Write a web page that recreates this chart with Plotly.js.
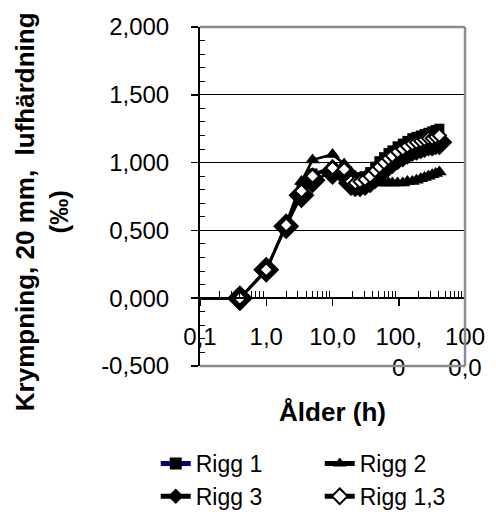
<!DOCTYPE html>
<html>
<head>
<meta charset="utf-8">
<script src="https://cdn.plot.ly/plotly-3.0.1.min.js"></script>
<style>html,body{margin:0;padding:0;background:#fff;}#chart{width:496px;height:519px;}</style>
</head>
<body>
<div id="chart"></div>
<script>
// Ålder (h)
var hours = [0.06, 0.4, 1, 2, 3.4, 5, 10, 15, 19, 22, 26, 31, 37, 44, 51, 60, 70, 80, 96, 115, 135, 160, 185, 215, 245, 280, 320, 360, 410];
var rigg1  = [0, 0, 0.20, 0.54, 0.81, 0.92, 0.96, 0.95, 0.90, 0.89, 0.89, 0.90, 0.93, 0.97, 1.01, 1.04, 1.07, 1.09, 1.12, 1.14, 1.16, 1.18, 1.19, 1.20, 1.21, 1.22, 1.23, 1.24, 1.25];
var rigg2  = [0, 0, 0.21, 0.55, 0.86, 1.02, 1.06, 0.99, 0.93, 0.90, 0.88, 0.87, 0.86, 0.86, 0.85, 0.85, 0.85, 0.85, 0.85, 0.85, 0.86, 0.86, 0.87, 0.88, 0.89, 0.90, 0.91, 0.92, 0.93];
var rigg3  = [0, 0, 0.21, 0.53, 0.76, 0.87, 0.93, 0.92, 0.85, 0.84, 0.84, 0.85, 0.87, 0.90, 0.93, 0.96, 0.99, 1.01, 1.04, 1.06, 1.08, 1.10, 1.11, 1.12, 1.13, 1.14, 1.14, 1.15, 1.15];
var rigg13 = [0, 0, 0.21, 0.54, 0.79, 0.90, 0.96, 0.95, 0.86, 0.85, 0.86, 0.875, 0.90, 0.94, 0.97, 1.00, 1.03, 1.05, 1.08, 1.10, 1.12, 1.14, 1.15, 1.16, 1.17, 1.18, 1.18, 1.19, 1.20];
var seriesNames = ['Rigg 1', 'Rigg 2', 'Rigg 3', 'Rigg 1,3'];
var xTickVals = [0.1, 1, 10, 100, 1000];
var xTickText = ['0,1', '1,0', '10,0', '100,<br>0', '100<br>0,0'];
var yTickVals = [-0.5, 0, 0.5, 1, 1.5, 2];
var yTickText = ['-0,500', '0,000', '0,500', '1,000', '1,500', '2,000'];

var FONT = 'Arial, "Liberation Sans", sans-serif';

var minorVals = [];
[0.1, 1, 10, 100].forEach(function (d) { for (var k = 2; k <= 9; k++) minorVals.push(d * k); });

var traces = [
  {x: hours, y: rigg1, name: seriesNames[0], mode: 'lines+markers',
   line: {color: '#000080', width: 2.5},
   marker: {symbol: 'square', size: 10, color: '#000000'}},
  {x: hours, y: rigg2, name: seriesNames[1], mode: 'lines+markers',
   line: {color: '#000000', width: 2.5},
   marker: {symbol: 'triangle-up', size: 13, color: '#000000'}},
  {x: hours, y: rigg3, name: seriesNames[2], mode: 'lines+markers',
   line: {color: '#000000', width: 2.5},
   marker: {symbol: 'diamond', size: 20, color: '#000000'}},
  {x: hours, y: rigg13, name: seriesNames[3], mode: 'lines+markers',
   line: {color: '#000000', width: 2.5},
   marker: {symbol: 'diamond', size: 10, color: '#ffffff', line: {color: '#000000', width: 2}}}
];

var layout = {
  width: 496, height: 519,
  margin: {l: 200, r: 31, t: 27, b: 153, autoexpand: false},
  paper_bgcolor: '#ffffff', plot_bgcolor: '#ffffff',
  separators: ', ',
  font: {family: FONT, color: '#000000', size: 24},
  showlegend: true,
  legend: {orientation: 'h', x: -0.167, xanchor: 'left', y: -0.224, yanchor: 'top',
           font: {family: FONT, size: 23, color: '#000000'},
           itemsizing: 'constant', entrywidth: 119, traceorder: 'normal',
           bgcolor: 'rgba(0,0,0,0)'},
  xaxis: {
    type: 'log', range: [-1, 3], anchor: 'free', position: 0.2,
    showline: true, linecolor: '#000000', linewidth: 2,
    ticks: 'outside', ticklen: 7, tickwidth: 1.5, tickcolor: '#000000',
    tickmode: 'array', tickvals: xTickVals, ticktext: xTickText,
    tickfont: {family: FONT, size: 24, color: '#000000'},
    ticklabelstandoff: 10,
    showgrid: false, zeroline: false,
    minor: {tickmode: 'array', tickvals: minorVals, ticks: 'inside', ticklen: 6, tickwidth: 1, tickcolor: '#000000', showgrid: false},
    automargin: true,
    title: {text: 'Ålder (h)', standoff: 22, font: {family: FONT, size: 26, weight: 'bold', color: '#000000'}}
  },
  xaxis2: {
    type: 'log', range: [-1, 3], overlaying: 'x', anchor: 'free', position: 0.2,
    showline: false, ticks: 'inside', ticklen: 7, tickwidth: 1.5, tickcolor: '#000000',
    tickmode: 'array', tickvals: xTickVals, showticklabels: false, showgrid: false, zeroline: false
  },
  yaxis: {
    range: [-0.5, 2], tickmode: 'array', tickvals: yTickVals, ticktext: yTickText,
    showline: true, linecolor: '#000000', linewidth: 2,
    ticks: 'outside', ticklen: 7, tickwidth: 1.5, tickcolor: '#000000',
    tickfont: {family: FONT, size: 24, color: '#000000'},
    ticklabelstandoff: 17,
    showgrid: true, gridcolor: '#000000', gridwidth: 1, zeroline: false,
    minor: {tickmode: 'linear', tick0: 0, dtick: 0.1, ticks: 'inside', ticklen: 5, tickwidth: 1, tickcolor: '#000000', showgrid: false}
  },
  shapes: [
    {type: 'line', xref: 'paper', yref: 'paper', x0: 0, x1: 1, y0: 1, y1: 1, line: {color: '#8c8c8c', width: 2.5}, layer: 'above'},
    {type: 'line', xref: 'paper', yref: 'paper', x0: 1, x1: 1, y0: 0, y1: 1, line: {color: '#8c8c8c', width: 2.5}, layer: 'above'},
    {type: 'line', xref: 'paper', yref: 'paper', x0: 0, x1: 1, y0: 0, y1: 0, line: {color: '#8c8c8c', width: 2.5}, layer: 'above'}
  ],
  annotations: [
    {text: 'Krympning, 20 mm,&nbsp; lufhärdning<br>(‰)', textangle: -90, showarrow: false,
     xref: 'paper', yref: 'paper', x: -0.596, y: 0.454, xanchor: 'center', yanchor: 'middle',
     font: {family: FONT, size: 26, weight: 'bold', color: '#000000'}}
  ]
};

Plotly.newPlot('chart', traces, layout, {staticPlot: true, displayModeBar: false});
</script>
</body>
</html>
